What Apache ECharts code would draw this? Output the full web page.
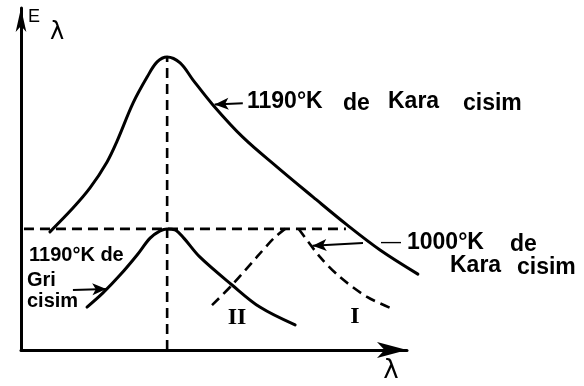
<!DOCTYPE html>
<html>
<head>
<meta charset="utf-8">
<script src="https://cdn.jsdelivr.net/npm/echarts@6/dist/echarts.min.js"></script>
<style>
  html, body { margin: 0; padding: 0; background: #fff; }
  #chart { width: 584px; height: 386px; }
</style>
</head>
<body>
<div id="chart"></div>
<script>
// Wavelength (x) and spectral emissive power (y), relative units.
const lambdaPeak = 39.4;      // wavelength of maximum emission at 1190 K
const greyPeakLevel = 36.7;   // common maximum of the grey body and the 1000 K curve

// 1190 K black body
const blackBody1190 = [
  [7.8, 35.8], [14.0, 43.0], [18.6, 49.1], [23.2, 57.0], [25.9, 63.3],
  [30.2, 74.8], [34.0, 82.7], [36.7, 87.3], [39.4, 88.8], [42.9, 87.0],
  [46.4, 81.8], [51.8, 74.2], [59.8, 64.5], [69.0, 55.5], [78.7, 46.4],
  [87.9, 37.9], [96.8, 30.3], [107.0, 23.0]
];

// 1190 K grey body
const greyBody1190 = [
  [17.8, 13.0], [22.1, 17.3], [26.7, 22.7], [31.3, 28.8], [34.8, 33.9],
  [37.5, 36.1], [39.4, 36.7], [41.5, 36.4], [43.9, 33.9], [48.2, 28.2],
  [56.9, 19.7], [64.4, 13.0], [73.9, 7.6]
];

// curve II (rising branch)
const curveII = [
  [51.5, 13.6], [56.9, 19.7], [63.6, 28.2], [68.2, 33.9], [71.2, 36.7]
];

// curve I: 1000 K black body (falling branch)
const blackBody1000 = [
  [74.9, 36.7], [80.6, 28.2], [86.0, 22.1], [93.3, 16.1], [100.3, 12.4]
];

// reference lines
const peakLevelLine = [[0.8, greyPeakLevel], [87.6, greyPeakLevel]];
const peakWavelengthLine = [[lambdaPeak, 0], [lambdaPeak, 88.8]];

// pointer arrows: [from, to]
const pointerArrows = [
  [[59.8, 74.8], [52.2, 74.4]],
  [[14.0, 18.2], [23.0, 18.5]],
  [[92.2, 32.4], [78.6, 31.6]]
];

// extents of the plotting area (curves may run past the end of the drawn λ axis)
const xExtent = 110;
const yExtent = 103.64;

const ink = '#000';
const chart = echarts.init(document.getElementById('chart'), null, { renderer: 'canvas' });

const solid = { color: ink, width: 3, type: 'solid', cap: 'round', join: 'round' };
const dashed = { color: ink, width: 2.6, type: [10, 6] };

function curve(name, data, style, smooth) {
  return {
    name, type: 'line', data, smooth, showSymbol: false, clip: false,
    xAxisIndex: 0, yAxisIndex: 0,
    lineStyle: style, emphasis: { disabled: true }, silent: true, z: 3
  };
}

function txt(text, x, y, size, opts) {
  opts = opts || {};
  return {
    type: 'text', x, y, silent: true, z: 10,
    style: {
      text,
      fill: ink,
      fontSize: size,
      fontFamily: opts.family || '"Liberation Sans", Arial, sans-serif',
      fontWeight: opts.weight || 'bold',
      textAlign: opts.align || 'left',
      textVerticalAlign: 'middle',
      verticalAlign: 'middle'
    }
  };
}

const serif = { family: '"Liberation Serif", "DejaVu Serif", serif', align: 'center' };
const hiddenAxis = {
  axisLine: { show: false }, axisTick: { show: false },
  axisLabel: { show: false }, splitLine: { show: false }
};
const arrowAxis = (size) => ({
  axisLine: { show: true, onZero: false, lineStyle: { color: ink, width: 3 }, symbol: ['none', 'arrow'], symbolSize: size },
  axisTick: { show: false }, axisLabel: { show: false }, splitLine: { show: false }
});

chart.setOption({
  animation: false,
  backgroundColor: '#fff',
  grid: [
    { left: 21, right: 155, top: 8, bottom: 36 },   // curves
    { left: 21, right: 177, top: 8, bottom: 36 }    // drawn axes
  ],
  xAxis: [
    Object.assign({ type: 'value', gridIndex: 0, min: 0, max: xExtent }, hiddenAxis),
    Object.assign({ type: 'value', gridIndex: 1, min: 0, max: 1 }, arrowAxis([12, 30]))
  ],
  yAxis: [
    Object.assign({ type: 'value', gridIndex: 0, min: 0, max: yExtent }, hiddenAxis),
    Object.assign({ type: 'value', gridIndex: 1, min: 0, max: 1 }, arrowAxis([8, 24]))
  ],
  series: [
    curve('1190 K black body', blackBody1190, solid, 0.35),
    Object.assign(curve('1190 K grey body', greyBody1190, solid, 0.35), {
      markLine: {
        silent: true, animation: false,
        symbol: ['none', 'arrow'], symbolSize: [9, 14],
        label: { show: false },
        lineStyle: { color: ink, width: 2, type: 'solid' },
        data: pointerArrows.map(a => [{ coord: a[0] }, { coord: a[1] }])
      }
    }),
    curve('II', curveII, dashed, 0.3),
    curve('1000 K black body', blackBody1000, dashed, 0.3),
    curve('peak level', peakLevelLine, dashed, false),
    curve('peak wavelength', peakWavelengthLine, dashed, false)
  ],
  graphic: [
    // axis titles
    txt('E', 28, 17, 18, { weight: 'normal' }),
    txt('λ', 50, 33, 24, { weight: 'normal', family: '"DejaVu Sans", sans-serif' }),
    txt('λ', 391, 371, 26, { weight: 'normal', family: '"DejaVu Sans", sans-serif', align: 'center' }),

    // 1190 K black body label
    txt('1190°K', 247, 102, 23),
    txt('de', 343, 104, 23),
    txt('Kara', 388, 102, 23),
    txt('cisim', 463, 104, 23),

    // 1000 K black body label
    txt('—', 381, 242, 20, { weight: 'normal' }),
    txt('1000°K', 407, 243, 23),
    txt('de', 510, 245, 23),
    txt('Kara', 450, 266, 23),
    txt('cisim', 517, 268, 23),

    // 1190 K grey body label
    txt('1190°K de', 29, 255, 20),
    txt('Gri', 27, 280, 20),
    txt('cisim', 27, 301, 20),

    // curve markers
    txt('II', 237, 318, 24, serif),
    txt('I', 355, 317, 24, serif)
  ]
});
</script>
</body>
</html>
